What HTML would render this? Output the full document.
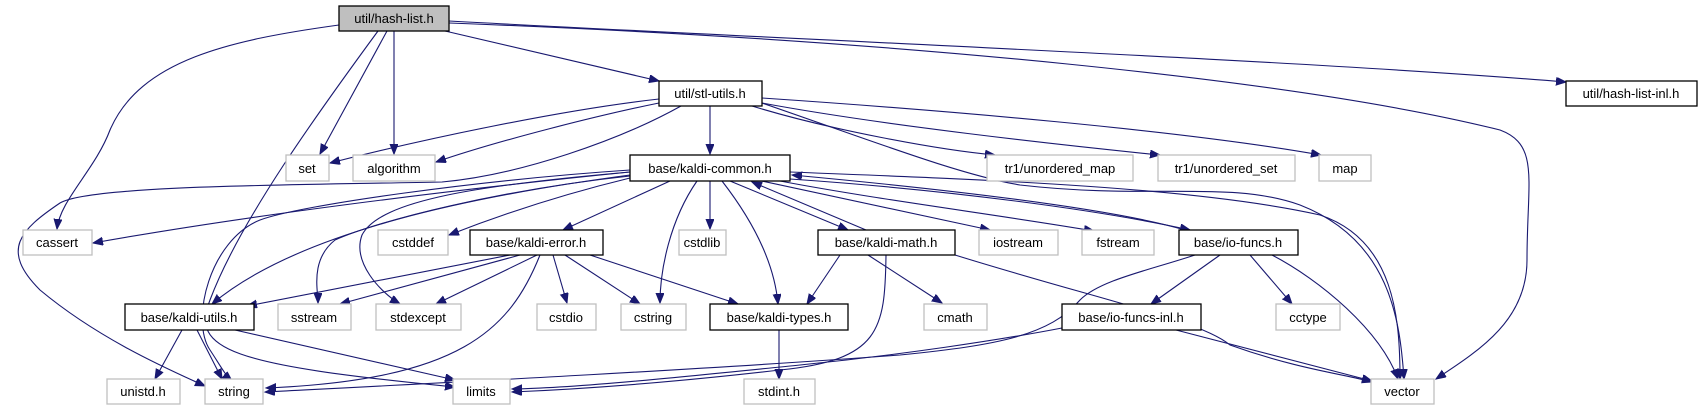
<!DOCTYPE html>
<html><head><meta charset="utf-8"><style>
html,body{margin:0;padding:0;background:#fff;}
svg{display:block;}
text{font-family:"Liberation Sans",sans-serif;font-size:13px;fill:#000;text-anchor:middle;}
.e{fill:none;stroke:#191970;stroke-width:1.1;marker-end:url(#a);}
.n{fill:#fff;stroke:#000;stroke-width:1.3;}
.g{fill:#fff;stroke:#bfbfbf;stroke-width:1.3;}
</style></head><body>
<svg width="1703" height="411" viewBox="0 0 1703 411" xmlns="http://www.w3.org/2000/svg">
<defs><marker id="a" markerUnits="userSpaceOnUse" markerWidth="12" markerHeight="10" refX="10" refY="4" orient="auto"><path d="M0,0 L10,4 L0,8 z" fill="#191970" stroke="#191970"/></marker></defs>
<!-- edges from hash-list.h -->
<path class="e" d="M339,25 C230,40 140,60 110,130 C95,170 60,200 57,229"/>
<path class="e" d="M378,31 C320,110 240,220 210,300 C190,350 230,365 455,387"/>
<path class="e" d="M387,31 L320,154"/>
<path class="e" d="M394,31 L394,154"/>
<path class="e" d="M445,31 L659,81"/>
<path class="e" d="M449,21 C800,40 1300,60 1566,82"/>
<path class="e" d="M449,23 C900,40 1300,80 1500,130 C1540,145 1527,180 1527,260 C1527,320 1480,350 1436,379"/>
<!-- edges from stl-utils.h -->
<path class="e" d="M659,99 C560,110 420,140 330,163"/>
<path class="e" d="M659,103 C600,115 500,140 436,162"/>
<path class="e" d="M681,106 C620,140 520,175 442,182 C300,185 90,185 60,203 C20,230 0,250 40,290 C100,340 170,370 205,386"/>
<path class="e" d="M710,106 L710,154"/>
<path class="e" d="M752,106 C830,130 940,150 995,155"/>
<path class="e" d="M762,103 C880,125 1060,145 1160,155"/>
<path class="e" d="M762,98 C940,110 1180,130 1321,155"/>
<path class="e" d="M762,103 C870,140 960,175 1020,185 C1150,200 1230,180 1300,205 C1390,240 1400,320 1404,379"/>
<!-- edges from kaldi-common.h -->
<path class="e" d="M630,172 C450,190 250,215 93,243"/>
<path class="e" d="M630,178 C560,195 500,215 449,235"/>
<path class="e" d="M670,181 L563,230"/>
<path class="e" d="M710,181 L710,229"/>
<path class="e" d="M730,181 L848,230"/>
<path class="e" d="M866,230 L752,182"/>
<path class="e" d="M762,181 L990,230"/>
<path class="e" d="M780,181 C880,200 1000,215 1094,231"/>
<path class="e" d="M790,179 C950,190 1100,210 1190,230"/>
<path class="e" d="M1185,230 C1100,205 900,185 792,175"/>
<path class="e" d="M790,172 C1000,180 1200,188 1320,215 C1395,240 1400,320 1400,379"/>
<path class="e" d="M630,176 C500,190 380,220 335,240 C310,260 318,290 318,303"/>
<path class="e" d="M630,172 C480,185 380,200 362,235 C352,262 380,292 400,304"/>
<path class="e" d="M630,170 C480,180 300,205 260,220 C210,240 190,320 210,350 C220,365 225,375 232,381"/>
<path class="e" d="M630,175 C480,195 300,230 212,304"/>
<path class="e" d="M697,181 C670,220 660,270 660,303"/>
<path class="e" d="M722,181 C760,230 775,270 778,304"/>
<!-- kaldi-error.h -->
<path class="e" d="M510,255 L247,306"/>
<path class="e" d="M520,255 L340,304"/>
<path class="e" d="M537,255 L436,304"/>
<path class="e" d="M540,255 C510,330 460,380 266,388"/>
<path class="e" d="M553,255 L567,303"/>
<path class="e" d="M565,255 L640,304"/>
<path class="e" d="M590,255 L738,304"/>
<!-- kaldi-math.h -->
<path class="e" d="M840,255 L807,304"/>
<path class="e" d="M868,255 L942,303"/>
<path class="e" d="M886,255 C885,330 880,360 780,370 C650,385 560,390 512,392"/>
<path class="e" d="M955,255 C1100,300 1200,320 1230,345 C1300,370 1350,375 1372,382"/>
<!-- io-funcs.h -->
<path class="e" d="M1220,255 L1151,304"/>
<path class="e" d="M1250,255 L1292,304"/>
<path class="e" d="M1272,255 C1320,280 1380,330 1398,379"/>
<path class="e" d="M1195,255 C1150,270 1100,280 1080,300 C1050,335 1000,345 900,355 C700,370 400,385 265,392"/>
<!-- io-funcs-inl.h -->
<path class="e" d="M1062,328 C1000,340 900,355 800,365 C700,375 580,388 512,389"/>
<path class="e" d="M1176,330 L1372,381"/>
<!-- kaldi-types.h -->
<path class="e" d="M779,330 L779,379"/>
<!-- kaldi-utils.h -->
<path class="e" d="M182,330 L155,379"/>
<path class="e" d="M197,330 L222,379"/>
<path class="e" d="M235,330 L455,380"/>
<!-- nodes -->
<rect x="339" y="6" width="110" height="25" fill="#bfbfbf" stroke="#000" stroke-width="1.3"/><text x="394" y="23">util/hash-list.h</text>
<rect class="n" x="659" y="81" width="103" height="25"/><text x="710" y="98">util/stl-utils.h</text>
<rect class="n" x="1566" y="81" width="131" height="25"/><text x="1631" y="98">util/hash-list-inl.h</text>
<rect class="g" x="286" y="155" width="43" height="26"/><text x="307" y="173">set</text>
<rect class="g" x="353" y="155" width="82" height="26"/><text x="394" y="173">algorithm</text>
<rect class="n" x="630" y="155" width="160" height="26"/><text x="710" y="173">base/kaldi-common.h</text>
<rect class="g" x="987" y="155" width="146" height="26"/><text x="1060" y="173">tr1/unordered_map</text>
<rect class="g" x="1158" y="155" width="137" height="26"/><text x="1226" y="173">tr1/unordered_set</text>
<rect class="g" x="1319" y="155" width="52" height="26"/><text x="1345" y="173">map</text>
<rect class="g" x="23" y="230" width="69" height="25"/><text x="57" y="247">cassert</text>
<rect class="g" x="378" y="230" width="70" height="25"/><text x="413" y="247">cstddef</text>
<rect class="n" x="470" y="230" width="133" height="25"/><text x="536" y="247">base/kaldi-error.h</text>
<rect class="g" x="679" y="230" width="47" height="25"/><text x="702" y="247">cstdlib</text>
<rect class="n" x="818" y="230" width="137" height="25"/><text x="886" y="247">base/kaldi-math.h</text>
<rect class="g" x="979" y="230" width="79" height="25"/><text x="1018" y="247">iostream</text>
<rect class="g" x="1082" y="230" width="72" height="25"/><text x="1118" y="247">fstream</text>
<rect class="n" x="1179" y="230" width="119" height="25"/><text x="1238" y="247">base/io-funcs.h</text>
<rect class="n" x="125" y="304" width="129" height="26"/><text x="189" y="322">base/kaldi-utils.h</text>
<rect class="g" x="278" y="304" width="73" height="26"/><text x="314" y="322">sstream</text>
<rect class="g" x="376" y="304" width="85" height="26"/><text x="418" y="322">stdexcept</text>
<rect class="g" x="537" y="304" width="59" height="26"/><text x="566" y="322">cstdio</text>
<rect class="g" x="621" y="304" width="65" height="26"/><text x="653" y="322">cstring</text>
<rect class="n" x="710" y="304" width="138" height="26"/><text x="779" y="322">base/kaldi-types.h</text>
<rect class="g" x="924" y="304" width="63" height="26"/><text x="955" y="322">cmath</text>
<rect class="n" x="1062" y="304" width="139" height="26"/><text x="1131" y="322">base/io-funcs-inl.h</text>
<rect class="g" x="1276" y="304" width="64" height="26"/><text x="1308" y="322">cctype</text>
<rect class="g" x="107" y="379" width="73" height="25"/><text x="143" y="396">unistd.h</text>
<rect class="g" x="205" y="379" width="58" height="25"/><text x="234" y="396">string</text>
<rect class="g" x="453" y="379" width="57" height="25"/><text x="481" y="396">limits</text>
<rect class="g" x="744" y="379" width="71" height="25"/><text x="779" y="396">stdint.h</text>
<rect class="g" x="1371" y="379" width="63" height="25"/><text x="1402" y="396">vector</text>
</svg>
</body></html>
